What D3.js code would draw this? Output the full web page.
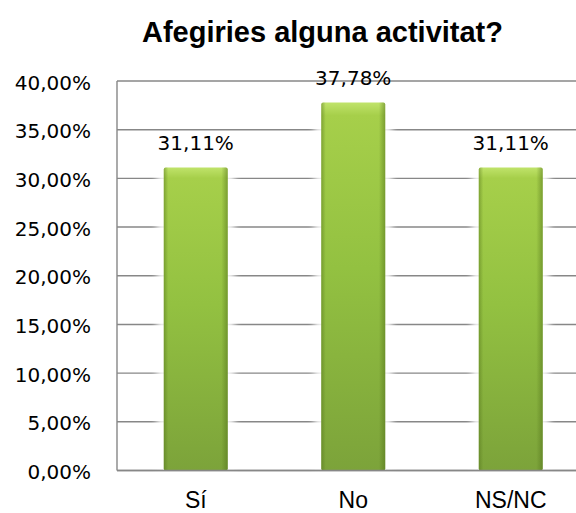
<!DOCTYPE html>
<html>
<head>
<meta charset="utf-8">
<script src="https://cdn.jsdelivr.net/npm/d3@7"></script>
<style>
  html, body { margin: 0; padding: 0; background: #fff; }
  svg { display: block; }
</style>
</head>
<body>
<script>
const categories = ["Sí", "No", "NS/NC"];
const values = [31.11, 37.78, 31.11];
const valueLabels = ["31,11%", "37,78%", "31,11%"];
const yTicks = [0, 5, 10, 15, 20, 25, 30, 35, 40];
const yTickLabels = ["0,00%", "5,00%", "10,00%", "15,00%", "20,00%", "25,00%", "30,00%", "35,00%", "40,00%"];
const title = "Afegiries alguna activitat?";

const W = 576, H = 513;
const svg = d3.select("body").append("svg").attr("width", W).attr("height", H);

const defs = svg.append("defs");
const gv = defs.append("linearGradient").attr("id", "gv").attr("x1", 0).attr("y1", 0).attr("x2", 0).attr("y2", 1);
gv.append("stop").attr("offset", "0").attr("stop-color", "#c0e36a");
gv.append("stop").attr("offset", "0.035").attr("stop-color", "#a6cf4a");
gv.append("stop").attr("offset", "0.45").attr("stop-color", "#93c141");
gv.append("stop").attr("offset", "1").attr("stop-color", "#7ca33a");
const gh = defs.append("linearGradient").attr("id", "gh").attr("x1", 0).attr("y1", 0).attr("x2", 1).attr("y2", 0);
gh.append("stop").attr("offset", "0").attr("stop-color", "#4f6e18").attr("stop-opacity", 0.45);
gh.append("stop").attr("offset", "0.07").attr("stop-color", "#4f6e18").attr("stop-opacity", 0);
gh.append("stop").attr("offset", "0.9").attr("stop-color", "#4f6e18").attr("stop-opacity", 0);
gh.append("stop").attr("offset", "1").attr("stop-color", "#4f6e18").attr("stop-opacity", 0.5);
const blur = defs.append("filter").attr("id", "glow").attr("x", "-50%").attr("y", "-50%").attr("width", "200%").attr("height", "200%");
blur.append("feGaussianBlur").attr("stdDeviation", 3);

const x = d3.scaleBand().domain(categories).range([117, 589.5]).paddingInner(0.594).paddingOuter(0.297);
const y = d3.scaleLinear().domain([0, 40]).range([470.5, 81]);

// gridlines
svg.append("g").selectAll("line").data(yTicks.filter(d => d > 0)).join("line")
  .attr("x1", 117).attr("x2", W)
  .attr("y1", d => y(d)).attr("y2", d => y(d))
  .attr("stroke", "#878787").attr("stroke-width", 1.4);

// axes lines
svg.append("line").attr("x1", 117).attr("x2", 117).attr("y1", y(40)).attr("y2", y(0))
  .attr("stroke", "#878787").attr("stroke-width", 1.4);
svg.append("line").attr("x1", 117).attr("x2", W).attr("y1", y(0)).attr("y2", y(0))
  .attr("stroke", "#878787").attr("stroke-width", 1.6);

// y tick labels
svg.append("g").selectAll("text").data(yTicks).join("text")
  .attr("x", 91).attr("y", d => y(d) + 8.5)
  .attr("text-anchor", "end")
  .attr("font-family", "DejaVu Sans, Verdana, sans-serif").attr("font-size", 20)
  .attr("fill", "#000")
  .text((d, i) => yTickLabels[i]);

const data = categories.map((c, i) => ({ c, v: values[i], l: valueLabels[i] }));

// glow behind bars
svg.append("g").selectAll("rect").data(data).join("rect")
  .attr("x", d => x(d.c) - 7).attr("width", x.bandwidth() + 14)
  .attr("y", d => y(d.v) - 4).attr("height", d => y(0) - y(d.v) + 2)
  .attr("fill", "#fff").attr("opacity", 0.85).attr("filter", "url(#glow)");

// bars
const bars = svg.append("g");
bars.selectAll("rect.b").data(data).join("rect").attr("class", "b")
  .attr("x", d => x(d.c)).attr("width", x.bandwidth())
  .attr("y", d => y(d.v)).attr("height", d => y(0) - y(d.v))
  .attr("rx", 2).attr("fill", "url(#gv)");
bars.selectAll("rect.e").data(data).join("rect").attr("class", "e")
  .attr("x", d => x(d.c)).attr("width", x.bandwidth())
  .attr("y", d => y(d.v)).attr("height", d => y(0) - y(d.v))
  .attr("rx", 2).attr("fill", "url(#gh)");

// bottom axis redraw over bars
svg.append("line").attr("x1", 117).attr("x2", W).attr("y1", y(0)).attr("y2", y(0))
  .attr("stroke", "#878787").attr("stroke-width", 1.6);

// value labels
svg.append("g").selectAll("text").data(data).join("text")
  .attr("x", d => x(d.c) + x.bandwidth() / 2).attr("y", d => y(d.v) - 18)
  .attr("text-anchor", "middle")
  .attr("font-family", "DejaVu Sans, Verdana, sans-serif").attr("font-size", 20)
  .attr("fill", "#000")
  .text(d => d.l);

// category labels
svg.append("g").selectAll("text").data(categories).join("text")
  .attr("x", d => x(d) + x.bandwidth() / 2).attr("y", 508)
  .attr("text-anchor", "middle")
  .attr("font-family", "Liberation Sans, Arial, sans-serif").attr("font-size", 23)
  .attr("fill", "#000")
  .text(d => d);

// title
svg.append("text").attr("x", 322.5).attr("y", 42)
  .attr("text-anchor", "middle")
  .attr("font-family", "Liberation Sans, Arial, sans-serif").attr("font-size", 29).attr("font-weight", "bold")
  .attr("fill", "#000")
  .text(title);
</script>
</body>
</html>
